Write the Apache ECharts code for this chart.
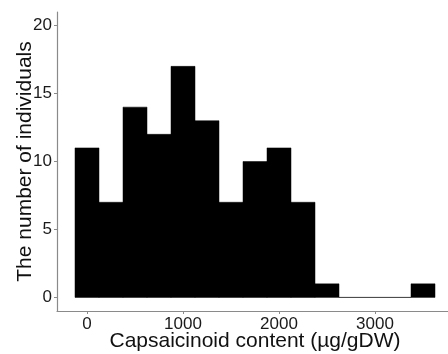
<!DOCTYPE html>
<html><head><meta charset="utf-8">
<script src="https://cdn.jsdelivr.net/npm/echarts@6/dist/echarts.min.js"></script>
<style>html,body{margin:0;padding:0;background:#fff}#c{width:448px;height:354px}</style>
</head><body><div id="c"></div>
<script>
const binWidth = 250;
const binCenters = [0, 250, 500, 750, 1000, 1250, 1500, 1750, 2000, 2250, 2500, 2750, 3000, 3250, 3500];
const counts = [11, 7, 14, 12, 17, 13, 7, 10, 11, 7, 1, 0, 0, 0, 1];
const xTicks = [0, 1000, 2000, 3000];
const yTicks = [0, 5, 10, 15, 20];
const xTitle = 'Capsaicinoid content (µg/gDW)';
const yTitle = 'The number of individuals';

const data = binCenters.map((c, i) => [c - binWidth / 2, c + binWidth / 2, counts[i]]);
const chart = echarts.init(document.getElementById('c'));
const font = 'Liberation Sans, Arial, sans-serif';
chart.setOption({
  animation: false,
  grid: { left: 57, top: 12, width: 396, height: 299, containLabel: false, outerBoundsMode: 'none' },
  xAxis: {
    type: 'value', min: -312.5, max: 3812.5,
    axisLine: { show: true, onZero: false, lineStyle: { color: '#8a8a8a', width: 1.2 } },
    axisTick: { show: true, customValues: xTicks, length: 3, lineStyle: { color: '#8a8a8a' } },
    axisLabel: { customValues: xTicks, color: '#1a1a1a', fontSize: 17, fontFamily: font, margin: 5,
      formatter: v => String(v) },
    splitLine: { show: false },
    name: xTitle, nameLocation: 'middle', nameGap: 20, nameMoveOverlap: false,
    nameTextStyle: { color: '#111', fontSize: 21, fontFamily: font }
  },
  yAxis: {
    type: 'value', min: -1, max: 21,
    axisLine: { show: true, onZero: false, lineStyle: { color: '#8a8a8a', width: 1.2 } },
    axisTick: { show: true, customValues: yTicks, length: 3, lineStyle: { color: '#8a8a8a' } },
    axisLabel: { customValues: yTicks, color: '#1a1a1a', fontSize: 17, fontFamily: font, margin: 5,
      formatter: v => String(v) },
    splitLine: { show: false },
    name: yTitle, nameLocation: 'middle', nameGap: 21, nameRotate: 90, nameMoveOverlap: false,
    nameTextStyle: { color: '#111', fontSize: 21, fontFamily: font }
  },
  series: [{
    type: 'custom',
    data: data,
    encode: { x: [0, 1], y: 2 },
    renderItem: function (params, api) {
      const p0 = api.coord([api.value(0), api.value(2)]);
      const p1 = api.coord([api.value(1), 0]);
      return {
        type: 'rect',
        shape: { x: p0[0], y: p0[1], width: p1[0] - p0[0], height: p1[1] - p0[1] },
        style: { fill: '#000', stroke: '#000', lineWidth: 0.5 }
      };
    }
  }]
});
</script></body></html>
